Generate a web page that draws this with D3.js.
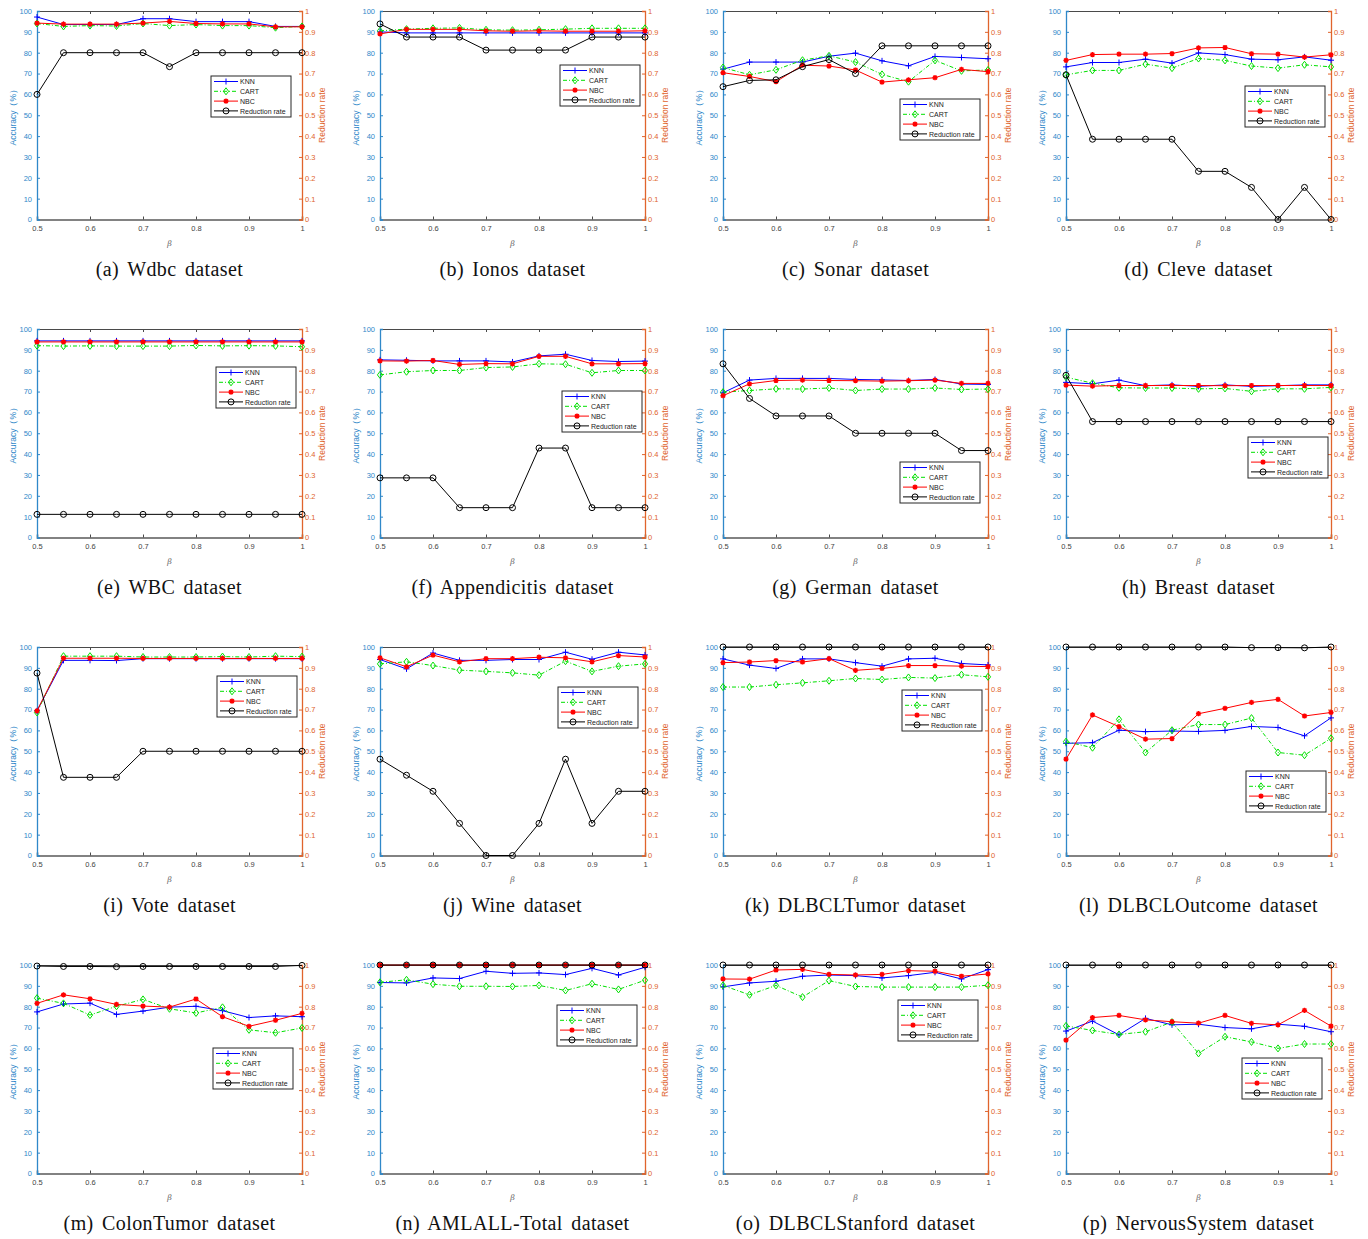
<!DOCTYPE html>
<html>
<head>
<meta charset="utf-8">
<script src="https://cdn.jsdelivr.net/npm/d3@7"></script>
<style>
    body { margin: 0; background: #fff; }
    svg { display: block; font-family: "Liberation Sans", Arial, sans-serif; }
    .caption { font-family: "Liberation Serif", "Times New Roman", serif; }
</style>
</head>
<body>
<svg id="chart" width="1368" height="1239"></svg>
<script>
var betas = [0.5, 0.55, 0.6, 0.65, 0.7, 0.75, 0.8, 0.85, 0.9, 0.95, 1];

var datasets = ['Wdbc', 'Ionos', 'Sonar', 'Cleve', 'WBC', 'Appendicitis', 'German', 'Breast',
    'Vote', 'Wine', 'DLBCLTumor', 'DLBCLOutcome', 'ColonTumor', 'AMLALL-Total', 'DLBCLStanford', 'NervousSystem'];

var letters = ['a', 'b', 'c', 'd', 'e', 'f', 'g', 'h', 'i', 'j', 'k', 'l', 'm', 'n', 'o', 'p'];

var seriesNames = ['KNN', 'CART', 'NBC', 'Reduction rate'];

var knnAcc = [
    [97.1, 93.5, 93.5, 93.5, 96.3, 96.3, 94.9, 94.9, 94.9, 92.6, 92.6],
    [90.0, 89.5, 89.5, 89.5, 89.5, 89.5, 89.5, 89.5, 89.5, 89.5, 89.5],
    [72.1, 75.5, 75.5, 75.5, 78.3, 79.8, 76.1, 73.7, 78.2, 77.7, 77.1],
    [73.2, 75.3, 75.3, 76.9, 75.0, 79.9, 79.1, 76.9, 76.6, 78.0, 76.4],
    [94.3, 94.3, 94.3, 94.3, 94.3, 94.3, 94.3, 94.3, 94.3, 94.3, 94.3],
    [85.2, 85.0, 84.7, 84.7, 84.7, 84.2, 87.1, 87.9, 84.9, 84.4, 84.6],
    [69.4, 75.5, 76.3, 76.3, 76.3, 75.8, 75.6, 75.3, 75.8, 73.6, 73.4],
    [74.4, 73.7, 75.5, 72.8, 73.2, 72.5, 73.2, 72.5, 72.8, 73.2, 73.2],
    [69.4, 93.6, 93.6, 93.5, 94.4, 94.4, 94.4, 94.4, 94.4, 94.4, 94.4],
    [94.0, 89.5, 97.1, 93.6, 93.6, 94.0, 94.0, 97.5, 94.1, 97.5, 96.2],
    [94.3, 91.3, 89.7, 94.3, 94.3, 92.5, 90.8, 94.3, 94.6, 92.1, 91.4],
    [53.8, 54.1, 60.1, 59.4, 59.7, 59.5, 60.0, 61.9, 61.4, 57.4, 66.0],
    [77.5, 81.3, 81.7, 76.3, 77.9, 79.8, 80.2, 78.1, 74.8, 75.6, 75.2],
    [91.6, 91.4, 93.8, 93.5, 97.0, 96.0, 96.2, 95.4, 98.4, 95.2, 98.9],
    [89.5, 91.4, 92.2, 94.6, 95.2, 94.9, 93.8, 94.9, 96.5, 93.3, 97.8],
    [68.3, 73.1, 66.5, 74.4, 71.3, 71.6, 70.0, 69.4, 71.6, 70.6, 68.0]
];

var cartAcc = [
    [94.0, 92.6, 93.0, 92.8, 94.0, 93.0, 93.5, 93.0, 93.0, 92.0, 92.6],
    [90.5, 91.3, 91.7, 91.9, 91.0, 90.8, 91.0, 91.3, 91.7, 91.7, 91.7],
    [72.9, 69.4, 71.8, 76.4, 78.5, 75.5, 69.6, 66.1, 76.3, 71.3, 71.7],
    [69.4, 71.5, 71.5, 74.5, 72.6, 77.2, 76.3, 73.6, 72.6, 74.2, 73.2],
    [92.0, 91.8, 91.9, 91.8, 91.8, 91.8, 92.1, 91.9, 92.0, 91.9, 91.5],
    [78.0, 79.5, 80.1, 80.1, 81.5, 81.8, 83.3, 83.1, 79.0, 80.1, 80.1],
    [69.7, 70.5, 71.3, 71.2, 71.7, 70.5, 71.2, 71.2, 71.7, 71.0, 71.2],
    [76.9, 74.0, 71.8, 71.7, 71.7, 71.3, 71.5, 70.1, 71.3, 71.3, 72.0],
    [68.6, 95.6, 95.6, 95.6, 95.2, 95.2, 95.2, 95.4, 95.2, 95.6, 95.4],
    [91.9, 92.9, 91.1, 88.9, 88.3, 87.6, 86.5, 93.2, 88.3, 90.8, 91.9],
    [80.8, 80.8, 81.9, 82.8, 83.8, 84.9, 84.4, 85.4, 85.1, 86.7, 85.7],
    [54.6, 51.7, 65.3, 49.4, 60.1, 62.8, 62.8, 65.9, 49.4, 48.1, 56.2],
    [84.1, 81.6, 76.0, 80.2, 83.5, 79.0, 77.0, 79.7, 68.9, 67.5, 69.8],
    [91.7, 92.9, 90.8, 89.8, 89.8, 89.7, 90.2, 87.8, 91.0, 88.3, 92.7],
    [90.2, 85.7, 90.2, 84.6, 92.5, 89.7, 89.4, 89.4, 89.4, 89.4, 90.3],
    [70.8, 68.6, 66.7, 68.0, 72.6, 57.6, 65.6, 63.1, 60.0, 62.1, 62.1]
];

var nbcAcc = [
    [94.2, 93.7, 93.7, 93.7, 94.2, 95.0, 94.0, 93.8, 93.8, 92.4, 92.4],
    [89.0, 91.2, 91.2, 91.2, 90.5, 90.3, 90.5, 90.3, 90.3, 90.3, 90.5],
    [70.4, 68.6, 66.1, 74.0, 73.6, 71.7, 65.9, 67.0, 68.0, 72.0, 70.9],
    [76.3, 79.1, 79.3, 79.3, 79.6, 82.3, 82.5, 79.5, 79.3, 77.9, 79.0],
    [93.8, 93.8, 93.8, 93.8, 93.8, 93.8, 93.8, 93.8, 93.8, 93.8, 93.8],
    [84.7, 84.6, 84.9, 83.0, 83.4, 83.3, 86.9, 86.9, 83.3, 83.3, 83.4],
    [68.0, 73.7, 75.3, 75.5, 75.3, 75.2, 75.0, 75.2, 75.5, 73.9, 73.9],
    [73.1, 72.6, 72.9, 72.9, 72.9, 72.9, 72.8, 72.9, 72.9, 72.9, 72.9],
    [69.4, 94.6, 94.6, 94.6, 94.5, 94.5, 94.5, 94.5, 94.5, 94.5, 94.5],
    [94.8, 90.5, 96.1, 92.9, 94.4, 94.4, 95.1, 94.8, 92.9, 95.9, 95.2],
    [92.5, 92.8, 93.5, 92.8, 94.4, 88.8, 89.7, 91.1, 91.1, 90.8, 90.6],
    [46.2, 67.4, 61.8, 55.8, 56.1, 68.0, 70.6, 73.4, 74.9, 66.9, 68.6],
    [81.6, 85.7, 83.8, 81.1, 80.3, 79.8, 83.7, 75.2, 70.6, 73.5, 76.8],
    [100, 100, 100, 100, 100, 100, 100, 100, 100, 100, 100],
    [93.3, 93.2, 97.6, 97.9, 95.5, 95.2, 95.5, 97.3, 97.0, 94.6, 95.7],
    [64.0, 74.8, 75.8, 73.7, 72.8, 72.1, 75.8, 72.0, 71.3, 78.2, 70.7]
];

var reductionRate = [
    [0.6, 0.8, 0.8, 0.8, 0.8, 0.733, 0.8, 0.8, 0.8, 0.8, 0.8],
    [0.938, 0.875, 0.875, 0.875, 0.8125, 0.8125, 0.8125, 0.8125, 0.875, 0.875, 0.875],
    [0.637, 0.667, 0.67, 0.733, 0.767, 0.7, 0.833, 0.833, 0.833, 0.833, 0.833],
    [0.694, 0.385, 0.385, 0.385, 0.385, 0.231, 0.231, 0.154, 0, 0.154, 0],
    [0.111, 0.111, 0.111, 0.111, 0.111, 0.111, 0.111, 0.111, 0.111, 0.111, 0.111],
    [0.286, 0.286, 0.286, 0.143, 0.143, 0.143, 0.429, 0.429, 0.143, 0.143, 0.143],
    [0.833, 0.667, 0.583, 0.583, 0.583, 0.5, 0.5, 0.5, 0.5, 0.417, 0.417],
    [0.778, 0.556, 0.556, 0.556, 0.556, 0.556, 0.556, 0.556, 0.556, 0.556, 0.556],
    [0.875, 0.375, 0.375, 0.375, 0.5, 0.5, 0.5, 0.5, 0.5, 0.5, 0.5],
    [0.462, 0.385, 0.308, 0.154, 0, 0, 0.154, 0.462, 0.154, 0.308, 0.308],
    [1, 1, 1, 1, 1, 1, 1, 1, 1, 1, 1],
    [1, 1, 1, 1, 1, 1, 1, 0.997, 0.997, 0.996, 1],
    [0.995, 0.993, 0.993, 0.992, 0.993, 0.993, 0.993, 0.993, 0.993, 0.993, 0.998],
    [1, 1, 1, 1, 1, 1, 1, 1, 1, 1, 1],
    [1, 1, 1, 1, 1, 1, 1, 1, 1, 1, 1],
    [1, 1, 1, 1, 1, 1, 1, 1, 1, 1, 1]
];

// legend box offset inside each plot area (px from plot's top-left)
var legendAt = [
    [174, 65], [180, 54], [177, 88], [179, 75],
    [179, 38], [182, 62], [177, 133], [182, 108],
    [180, 29], [178, 40], [179, 43], [180, 124],
    [176, 83], [177, 40], [175, 35], [176, 93]
];

var layout = {
    colX: [37, 380, 723, 1066],
    rowY: [11, 329, 647, 965],
    width: 265,
    height: 208.5,
    leftColor: '#2f88c9',
    rightColor: '#e0642c'
};

var styles = [
    { color: '#0000ff', dash: null,      marker: 'plus' },
    { color: '#00e000', dash: '4,2,1,2', marker: 'diamond' },
    { color: '#ff0000', dash: null,      marker: 'star' },
    { color: '#000000', dash: null,      marker: 'circle' }
];

var svg = d3.select('#chart');
svg.append('rect').attr('width', 1368).attr('height', 1239).attr('fill', '#fff');

var fmt = d3.format('~g');

function drawMarker(sel, kind, color) {
    if (kind === 'plus') {
        sel.append('path').attr('d', 'M-3,0H3M0,-3V3').attr('stroke', color).attr('stroke-width', 1);
    } else if (kind === 'diamond') {
        sel.append('path').attr('d', 'M0,-3.5L2.6,0L0,3.5L-2.6,0Z')
            .attr('fill', 'none').attr('stroke', color).attr('stroke-width', 1);
    } else if (kind === 'star') {
        sel.append('path').attr('d', 'M-2.6,0H2.6M0,-2.6V2.6M-1.9,-1.9L1.9,1.9M-1.9,1.9L1.9,-1.9')
            .attr('stroke', color).attr('stroke-width', 1.4);
        sel.append('circle').attr('r', 1.5).attr('fill', color);
    } else {
        sel.append('circle').attr('r', 3).attr('fill', 'none').attr('stroke', color).attr('stroke-width', 1);
    }
}

datasets.forEach((name, i) => {
    var w = layout.width, h = layout.height;
    var g = svg.append('g')
        .attr('transform', `translate(${ layout.colX[i % 4] }, ${ layout.rowY[Math.floor(i / 4)] })`)
    ;

    var x  = d3.scaleLinear().domain([0.5, 1]).range([0, w]);
    var yL = d3.scaleLinear().domain([0, 100]).range([h, 0]);
    var yR = d3.scaleLinear().domain([0, 1]).range([h, 0]);

    // top & bottom frame with inward ticks
    var top = g.append('g')
        .call(d3.axisTop(x).tickValues([0.5, 0.6, 0.7, 0.8, 0.9, 1]).tickSize(-3).tickFormat(''))
    ;
    top.select('.domain').attr('stroke', '#4a4a4a').attr('stroke-width', 1);
    top.selectAll('.tick line').attr('stroke', '#4a4a4a');

    var bottom = g.append('g')
        .attr('transform', `translate(0, ${ h })`)
        .call(d3.axisBottom(x).tickValues([0.5, 0.6, 0.7, 0.8, 0.9, 1]).tickSize(-3).tickPadding(6).tickFormat(fmt))
    ;
    bottom.select('.domain').attr('stroke', '#5a5a5a').attr('stroke-width', 1.6);
    bottom.selectAll('.tick line').attr('stroke', '#4a4a4a');
    bottom.selectAll('.tick text').attr('fill', '#444').attr('font-size', 7.5).attr('font-family', null);

    var left = g.append('g')
        .call(d3.axisLeft(yL).ticks(10).tickSize(-3).tickPadding(5))
    ;
    left.select('.domain').attr('stroke', layout.leftColor).attr('stroke-width', 1.3);
    left.selectAll('.tick line').attr('stroke', layout.leftColor);
    left.selectAll('.tick text').attr('fill', layout.leftColor).attr('font-size', 7.5).attr('font-family', null);

    var right = g.append('g')
        .attr('transform', `translate(${ w }, 0)`)
        .call(d3.axisRight(yR).ticks(10).tickSize(-3).tickPadding(3).tickFormat(fmt))
    ;
    right.select('.domain').attr('stroke', layout.rightColor).attr('stroke-width', 1.3);
    right.selectAll('.tick line').attr('stroke', layout.rightColor);
    right.selectAll('.tick text').attr('fill', layout.rightColor).attr('font-size', 7.5).attr('font-family', null);

    // axis titles
    g.append('text')
        .attr('transform', `translate(-21, ${ h / 2 }) rotate(-90)`)
        .attr('text-anchor', 'middle')
        .attr('fill', layout.leftColor)
        .attr('font-size', 8.5)
        .text('Accuracy（%）')
    ;
    g.append('text')
        .attr('transform', `translate(${ w + 23 }, ${ h / 2 }) rotate(-90)`)
        .attr('text-anchor', 'middle')
        .attr('fill', layout.rightColor)
        .attr('font-size', 8.5)
        .text('Reduction rate')
    ;
    g.append('text')
        .attr('x', w / 2)
        .attr('y', h + 26)
        .attr('text-anchor', 'middle')
        .attr('fill', '#666')
        .attr('font-size', 8)
        .attr('font-style', 'italic')
        .attr('font-family', '"DejaVu Serif", serif')
        .text('β')
    ;

    // series
    var series = [knnAcc[i], cartAcc[i], nbcAcc[i], reductionRate[i]];
    series.forEach((vals, s) => {
        var yS = s === 3 ? yR : yL;
        var pts = betas.map((b, k) => [x(b), yS(vals[k])]);
        var st = styles[s];

        g.append('path')
            .datum(pts)
            .attr('fill', 'none')
            .attr('stroke', st.color)
            .attr('stroke-width', 1)
            .attr('stroke-dasharray', st.dash)
            .attr('d', d3.line())
        ;

        g.selectAll(null)
            .data(pts)
            .enter().append('g')
            .attr('transform', p => `translate(${ p[0] }, ${ p[1] })`)
            .each(function () {
                drawMarker(d3.select(this), st.marker, st.color);
            })
        ;
    });

    // legend
    var lg = g.append('g')
        .attr('transform', `translate(${ legendAt[i][0] }, ${ legendAt[i][1] })`)
    ;
    lg.append('rect')
        .attr('width', 80)
        .attr('height', 41)
        .attr('fill', '#fff')
        .attr('stroke', '#262626')
        .attr('stroke-width', 1)
    ;
    seriesNames.forEach((label, s) => {
        var st = styles[s];
        var row = lg.append('g').attr('transform', `translate(0, ${ 5.5 + s * 9.8 })`);
        row.append('line')
            .attr('x1', 3).attr('x2', 27)
            .attr('stroke', st.color)
            .attr('stroke-width', 1)
            .attr('stroke-dasharray', st.dash)
        ;
        drawMarker(row.append('g').attr('transform', 'translate(15, 0)'), st.marker, st.color);
        row.append('text')
            .attr('x', 29)
            .attr('y', 2.6)
            .attr('font-size', 7)
            .attr('fill', '#222')
            .text(label)
        ;
    });

    // caption
    g.append('text')
        .attr('class', 'caption')
        .attr('x', w / 2)
        .attr('y', h + 56)
        .attr('text-anchor', 'middle')
        .attr('font-size', 20)
        .attr('letter-spacing', 0.4)
        .attr('word-spacing', 3)
        .attr('fill', '#111')
        .text(`(${ letters[i] }) ${ name } dataset`)
    ;
});
</script>
</body>
</html>
